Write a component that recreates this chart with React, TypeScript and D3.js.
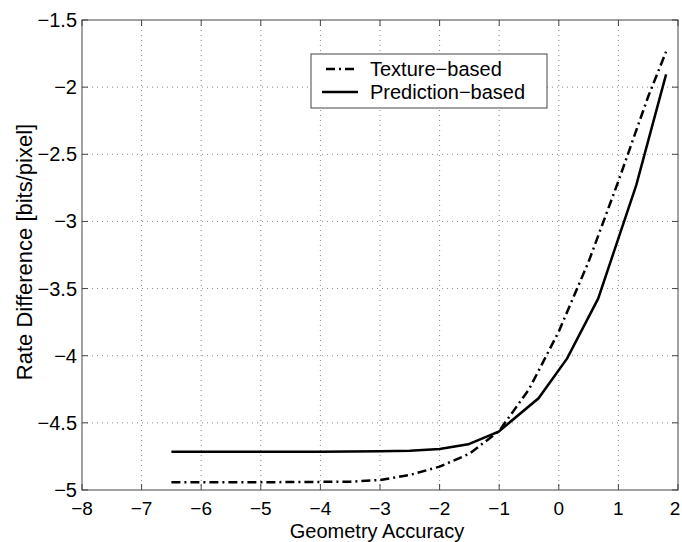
import React from "react";
import * as d3 from "d3";

// Geometry accuracy vs. rate difference for two coding schemes
const textureX = [-6.5, -5.5, -4.5, -3.5, -3, -2.5, -2, -1.5, -1, -0.5, 0, 0.5, 1, 1.5, 1.8];
const textureY = [-4.943, -4.943, -4.941, -4.938, -4.926, -4.888, -4.826, -4.73, -4.56, -4.25, -3.82, -3.3, -2.7, -2.07, -1.736];

const predictionX = [-6.5, -5, -4, -3, -2.5, -2, -1.52, -1.01, -0.34, 0.14, 0.66, 1.3, 1.8];
const predictionY = [-4.715, -4.715, -4.715, -4.712, -4.707, -4.695, -4.66, -4.565, -4.317, -4.02, -3.575, -2.73, -1.905];

const xTicks = [-8, -7, -6, -5, -4, -3, -2, -1, 0, 1, 2];
const yTicks = [-5, -4.5, -4, -3.5, -3, -2.5, -2, -1.5];

const seriesNames = ["Texture\u2212based", "Prediction\u2212based"];

const W = 682;
const H = 542;
const left = 82;
const right = 678;
const top = 20;
const bottom = 490;

const fmt = (v: number) => String(v).replace("-", "\u2212");

export default function App() {
  const x = d3.scaleLinear().domain([-8, 2]).range([left, right]);
  const y = d3.scaleLinear().domain([-5, -1.5]).range([bottom, top]);
  const line = d3
    .line<[number, number]>()
    .x((d) => x(d[0]))
    .y((d) => y(d[1]));

  const texture = textureX.map((v, i) => [v, textureY[i]] as [number, number]);
  const prediction = predictionX.map((v, i) => [v, predictionY[i]] as [number, number]);

  const font = "'Liberation Sans', Arial, Helvetica, sans-serif";
  const axisColor = "#444";
  const tickLen = 6;
  const dashDot = "9,4,2,4";

  const legX = 311;
  const legY = 54;
  const legW = 236;
  const legH = 54;

  return (
    <svg
      width={W}
      height={H}
      style={{ position: "absolute", left: 0, top: 0, background: "#fff" }}
      fontFamily={font}
    >
      <rect x={0} y={0} width={W} height={H} fill="#fff" />
      {/* grid */}
      <g stroke="#888" strokeWidth={1} strokeDasharray="1,4">
        {xTicks.slice(1, -1).map((t) => (
          <line key={"gx" + t} x1={x(t)} x2={x(t)} y1={top} y2={bottom} />
        ))}
        {yTicks.slice(1, -1).map((t) => (
          <line key={"gy" + t} x1={left} x2={right} y1={y(t)} y2={y(t)} />
        ))}
      </g>
      {/* ticks on all four sides */}
      <g stroke={axisColor} strokeWidth={1}>
        {xTicks.map((t) => (
          <g key={"tx" + t}>
            <line x1={x(t)} x2={x(t)} y1={bottom} y2={bottom - tickLen} />
            <line x1={x(t)} x2={x(t)} y1={top} y2={top + tickLen} />
          </g>
        ))}
        {yTicks.map((t) => (
          <g key={"ty" + t}>
            <line x1={left} x2={left + tickLen} y1={y(t)} y2={y(t)} />
            <line x1={right} x2={right - tickLen} y1={y(t)} y2={y(t)} />
          </g>
        ))}
      </g>
      <rect
        x={left}
        y={top}
        width={right - left}
        height={bottom - top}
        fill="none"
        stroke={axisColor}
        strokeWidth={1}
      />
      {/* data */}
      <path
        d={line(texture) || ""}
        fill="none"
        stroke="#000"
        strokeWidth={2.5}
        strokeDasharray={dashDot}
      />
      <path d={line(prediction) || ""} fill="none" stroke="#000" strokeWidth={2.5} />
      {/* tick labels */}
      <g fontSize={20} fill="#000">
        {xTicks.map((t) => (
          <text key={"lx" + t} x={Math.min(x(t), W - 7)} y={bottom + 25} fontSize={19} textAnchor="middle">
            {fmt(t)}
          </text>
        ))}
        {yTicks.map((t) => (
          <text key={"ly" + t} x={left - 5} y={y(t) + 7} textAnchor="end">
            {fmt(t)}
          </text>
        ))}
      </g>
      {/* axis titles */}
      <text x={(left + right) / 2 - 3} y={537.5} textAnchor="middle" fontSize={20}>
        Geometry Accuracy
      </text>
      <text
        transform={`translate(32, ${(top + bottom) / 2 - 3}) rotate(-90)`}
        textAnchor="middle"
        fontSize={22}
      >
        Rate Difference [bits/pixel]
      </text>
      {/* legend */}
      <g>
        <rect x={legX} y={legY} width={legW} height={legH} fill="#fff" stroke={axisColor} strokeWidth={1} />
        <line
          x1={legX + 11}
          x2={legX + 47}
          y1={legY + 15}
          y2={legY + 15}
          stroke="#000"
          strokeWidth={2.5}
          strokeDasharray={dashDot}
          strokeDashoffset={-4}
        />
        <line x1={legX + 11} x2={legX + 47} y1={legY + 38} y2={legY + 38} stroke="#000" strokeWidth={2.5} />
        <text x={legX + 59} y={legY + 22} fontSize={20}>
          {seriesNames[0]}
        </text>
        <text x={legX + 59} y={legY + 45} fontSize={20}>
          {seriesNames[1]}
        </text>
      </g>
    </svg>
  );
}
